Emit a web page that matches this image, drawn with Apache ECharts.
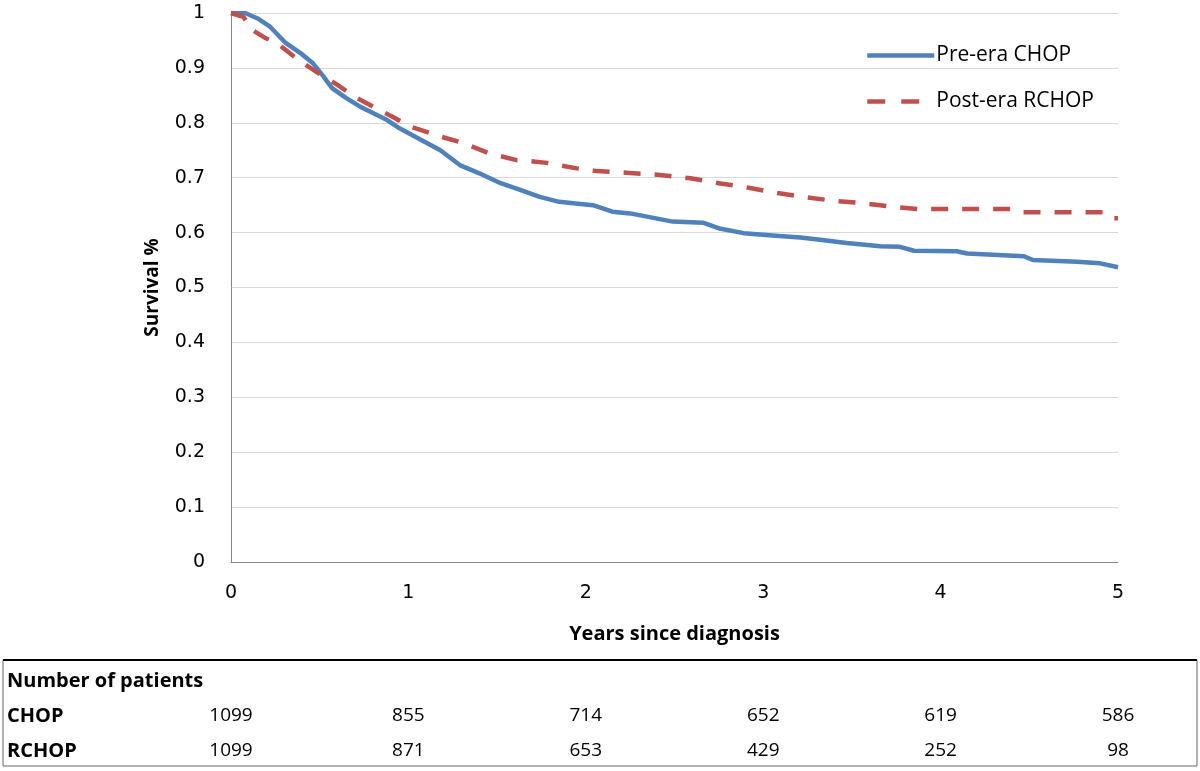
<!DOCTYPE html>
<html>
<head>
<meta charset="utf-8">
<script src="https://cdn.jsdelivr.net/npm/echarts@6/dist/echarts.min.js"></script>
<style>
html,body{margin:0;padding:0;background:#fff;}
#chart{width:1200px;height:771px;}
</style>
</head>
<body>
<div id="chart"></div>
<script>
// Kaplan-Meier style survival estimates (years, survival fraction)
const chopTimes = [0,0.08,0.15,0.22,0.31,0.40,0.46,0.52,0.57,0.65,0.73,0.80,0.88,0.95,1.07,1.18,1.29,1.40,1.52,1.63,1.74,1.85,1.97,2.04,2.15,2.25,2.49,2.66,2.76,2.89,3.09,3.21,3.32,3.47,3.66,3.77,3.85,4.09,4.15,4.47,4.52,4.77,4.90,5.0];
const chopSurv  = [1.0,1.0,0.99,0.975,0.945,0.925,0.909,0.885,0.863,0.845,0.829,0.818,0.805,0.790,0.769,0.750,0.723,0.708,0.690,0.678,0.665,0.656,0.652,0.650,0.638,0.635,0.620,0.618,0.607,0.599,0.594,0.591,0.587,0.581,0.575,0.574,0.567,0.566,0.562,0.557,0.550,0.547,0.544,0.537];
const rchopTimes = [0,0.07,0.12,0.19,0.26,0.37,0.48,0.60,0.71,0.82,0.91,1.01,1.18,1.31,1.46,1.61,1.67,1.78,1.95,2.06,2.23,2.42,2.59,2.75,2.91,3.08,3.25,3.42,3.55,3.73,3.87,4.40,4.45,4.93,4.97,5.0];
const rchopSurv  = [1.0,0.993,0.969,0.955,0.945,0.917,0.893,0.869,0.845,0.826,0.811,0.793,0.775,0.763,0.744,0.732,0.731,0.727,0.717,0.712,0.709,0.705,0.699,0.690,0.682,0.672,0.664,0.657,0.654,0.647,0.643,0.643,0.637,0.637,0.626,0.626];
const seriesNames = ['Pre-era CHOP', 'Post-era RCHOP'];
// Number at risk table
const tableTitle = 'Number of patients';
const riskYears = [0,1,2,3,4,5];
const riskRowLabels = ['CHOP', 'RCHOP'];
const riskChop  = [1099,855,714,652,619,586];
const riskRchop = [1099,871,653,429,252,98];

const chart = echarts.init(document.getElementById('chart'));
const zip = (a,b) => a.map((v,i)=>[v,b[i]]);
const tickFont = '"DejaVu Sans", Verdana, sans-serif';
const textFont = '"Open Sans", Arial, sans-serif';

chart.setOption({
  animation:false,
  backgroundColor:'#fff',
  grid:{left:231,right:82,top:13,bottom:209,containLabel:false},
  legend:{
    orient:'vertical', left:860, top:40, itemGap:25,
    itemWidth:67, itemHeight:26,
    icon:'inherit',
    itemStyle:{opacity:0},
    lineStyle:{width:4.5},
    textStyle:{fontFamily:textFont,fontSize:21,color:'#000',padding:[0,0,0,-3]},
    data:[
      {name:seriesNames[0]},
      {name:seriesNames[1], lineStyle:{width:4.5,type:[18,16]}}
    ]
  },
  xAxis:{
    type:'value', min:0, max:5, interval:1,
    name:'Years since diagnosis', nameLocation:'middle', nameGap:62,
    nameTextStyle:{fontFamily:textFont,fontWeight:'bold',fontSize:20,color:'#000'},
    axisLine:{show:true,lineStyle:{color:'#868686',width:1}},
    axisTick:{show:false},
    axisLabel:{fontFamily:tickFont,fontSize:19,color:'#000',margin:22},
    splitLine:{show:false}
  },
  yAxis:{
    type:'value', min:0, max:1, interval:0.1,
    name:'Survival %', nameLocation:'middle', nameGap:69,
    nameTextStyle:{fontFamily:textFont,fontWeight:'bold',fontSize:19,color:'#000'},
    axisLine:{show:true,lineStyle:{color:'#868686',width:1}},
    axisTick:{show:false},
    axisLabel:{fontFamily:tickFont,fontSize:19,color:'#000',margin:26,
      formatter:v=>String(Math.round(v*10)/10)},
    splitLine:{show:true,lineStyle:{color:'#d9d9d9',width:1}}
  },
  series:[
    {name:seriesNames[0],type:'line',symbol:'none',data:zip(chopTimes,chopSurv),
     lineStyle:{color:'#4f81bd',width:4.5,type:'solid'},itemStyle:{color:'#4f81bd'},z:3},
    {name:seriesNames[1],type:'line',symbol:'none',data:zip(rchopTimes,rchopSurv),
     lineStyle:{color:'#c0504d',width:4.5,type:[17,14]},itemStyle:{color:'#c0504d'},z:4}
  ]
});

// Number-at-risk table below the chart, columns aligned with x-axis ticks
const els = [];
els.push({type:'rect',shape:{x:3,y:660,width:1194,height:106},style:{fill:'none',stroke:'#666',lineWidth:1},silent:true});
els.push({type:'line',shape:{x1:3,y1:660,x2:1197,y2:660},style:{stroke:'#000',lineWidth:2}});
const rowY = [681,716,751];
els.push({type:'text',x:7,y:rowY[0],style:{text:tableTitle,font:'bold 20px '+textFont,fill:'#000',verticalAlign:'middle'}});
riskRowLabels.forEach((lab,r)=>{
  els.push({type:'text',x:7,y:rowY[r+1],style:{text:lab,font:'bold 20px '+textFont,fill:'#000',verticalAlign:'middle'}});
});
[riskChop,riskRchop].forEach((row,r)=>{
  row.forEach((n,i)=>{
    const px = chart.convertToPixel({xAxisIndex:0}, riskYears[i]);
    els.push({type:'text',x:px,y:rowY[r+1],style:{text:String(n),font:'19px '+textFont,fill:'#000',align:'center',verticalAlign:'middle'}});
  });
});
chart.setOption({graphic:els});
</script>
</body>
</html>
